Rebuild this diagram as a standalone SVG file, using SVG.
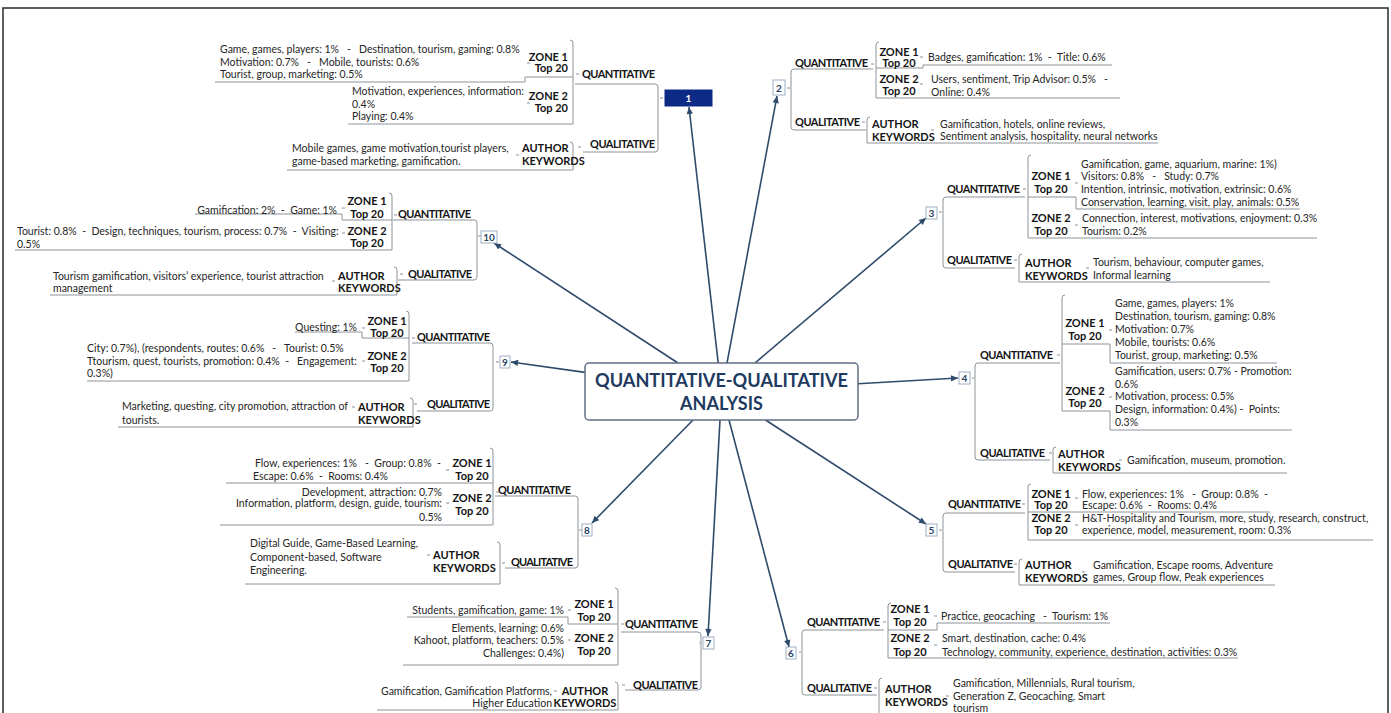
<svg xmlns="http://www.w3.org/2000/svg" width="1391" height="713" viewBox="0 0 1391 713">
<style>
.frame{fill:none;stroke:#2a2a2a;stroke-width:1.5}
.br{fill:none;stroke:#8e9398;stroke-width:1}
.arr{fill:none;stroke:#2f4b6b;stroke-width:1.6;marker-end:url(#ah)}
.dot{fill:#c4c8cc}
.kw{font-family:Lato,'Liberation Sans',sans-serif;font-size:10.5px;fill:#262626;white-space:pre}
.lb{font-family:Lato,'Liberation Sans',sans-serif;font-weight:bold;font-size:11px;fill:#141414}
.mid{text-anchor:middle}
.end{text-anchor:end}
.box{fill:#fff;stroke:#9db0c4;stroke-width:1}
.num{font-family:Lato,'Liberation Sans',sans-serif;font-weight:bold;font-size:10px;fill:#2a4563;text-anchor:middle}
.title{font-family:Lato,'Liberation Sans',sans-serif;font-weight:bold;font-size:18px;fill:#1e3a5f;text-anchor:middle}
</style>
<defs>
<marker id="ah" viewBox="0 0 10 10" refX="10" refY="5" markerWidth="8" markerHeight="7" markerUnits="userSpaceOnUse" orient="auto"><path d="M0,0.5 L10,5 L0,9.5 z" fill="#2f4b6b"/></marker>
</defs>
<rect width="1391" height="713" fill="#fff"/>
<path class="frame" d="M3,713 V8 H1388 V713"/>

<g id="connectors">
<path class="arr" d="M718.2,363 L689,107"/>
<path class="arr" d="M727,363 L777,96"/>
<path class="arr" d="M755,363 L926,218"/>
<path class="arr" d="M858,383.7 L958,378"/>
<path class="arr" d="M765.5,420 L926,524"/>
<path class="arr" d="M729,420 L789,647"/>
<path class="arr" d="M720,420 L708,636"/>
<path class="arr" d="M693,420 L592,523"/>
<path class="arr" d="M585,372.4 L511,362"/>
<path class="arr" d="M678,363 L494,243"/>
</g>

<g id="tree-lines">
<!-- branch 1 -->
<path class="br" d="M215,82 H525 V77 H573"/>
<path class="br" d="M570,40 Q573,40 573,43 V124 H348"/>
<path class="br" d="M575,84 H655 Q658,84 658,87 V149 Q658,152 655,152 H583"/>
<path class="br" d="M570,142 Q573,142 573,145 V170 H287"/>
<!-- branch 2 -->
<path class="br" d="M873,69 H794 Q791,69 791,72 V127 Q791,130 794,130 H866"/>
<path class="br" d="M879,42 Q876,42 876,45 V98 H1120"/>
<path class="br" d="M876,68 H923 V65 H1112"/>
<path class="br" d="M870,117 Q867,117 867,120 V143 H1158"/>
<!-- branch 3 -->
<path class="br" d="M1025,197 H946 Q943,197 943,200 V265 Q943,268 946,268 H1015"/>
<path class="br" d="M1031,155 Q1028,155 1028,158 V238 H1317"/>
<path class="br" d="M1028,197 H1076 V209 H1300"/>
<path class="br" d="M1022,254 Q1019,254 1019,257 V282 H1270"/>
<!-- branch 4 -->
<path class="br" d="M1060,363 H978 Q975,363 975,366 V457 Q975,460 978,460 H1050"/>
<path class="br" d="M1065,295 Q1062,295 1062,298 V411 H1110 V430 H1292"/>
<path class="br" d="M1062,344 H1110 V363 H1277"/>
<path class="br" d="M1056,447 Q1053,447 1053,450 V473 H1287"/>
<!-- branch 5 -->
<path class="br" d="M1025,513 H946 Q943,513 943,516 V569 Q943,572 946,572 H1015"/>
<path class="br" d="M1031,484 Q1028,484 1028,487 V540 H1373"/>
<path class="br" d="M1028,512 H1270"/>
<path class="br" d="M1022,559 Q1019,559 1019,562 V585 H1275"/>
<!-- branch 6 -->
<path class="br" d="M884,630 H805 Q802,630 802,633 V692 Q802,695 805,695 H877"/>
<path class="br" d="M891,603 Q888,603 888,606 V658 H1238"/>
<path class="br" d="M888,630 H937 V623 H1110"/>
<path class="br" d="M882,678 Q879,678 879,681 V720"/>
<!-- branch 7 -->
<path class="br" d="M621,632 H698 Q701,632 701,635 V687 Q701,690 698,690 H625"/>
<path class="br" d="M615,588 Q618,588 618,591 V665 H403"/>
<path class="br" d="M407,617 H568 V624 H618"/>
<path class="br" d="M615,682 Q618,682 618,685 V710 H377"/>
<!-- branch 8 -->
<path class="br" d="M495,496 H575 Q578,496 578,499 V565 Q578,568 575,568 H505"/>
<path class="br" d="M490,448 Q493,448 493,451 V525 H220"/>
<path class="br" d="M226,483 H493"/>
<path class="br" d="M497,542 Q500,542 500,545 V584 H245"/>
<!-- branch 9 -->
<path class="br" d="M412,343 H490 Q493,343 493,346 V408 Q493,411 490,411 H417"/>
<path class="br" d="M406,311 Q409,311 409,314 V381 H87"/>
<path class="br" d="M295,332 H362 V338 H409"/>
<path class="br" d="M410,398 Q413,398 413,401 V427 H118"/>
<!-- branch 10 -->
<path class="br" d="M393,220 H474 Q477,220 477,223 V277 Q477,280 474,280 H398"/>
<path class="br" d="M389,193 Q392,193 392,196 V250 H15"/>
<path class="br" d="M195,214 H342 V220 H392"/>
<path class="br" d="M394,267 Q397,267 397,270 V295 H50"/>
</g>

<g id="knobs">
<rect class="dot" x="660" y="97" width="3" height="2"/><rect class="dot" x="576" y="73" width="3" height="2"/><rect class="dot" x="527" y="62" width="3" height="2"/><rect class="dot" x="527" y="102" width="3" height="2"/><rect class="dot" x="578" y="146" width="3" height="2"/><rect class="dot" x="516" y="154" width="3" height="2"/>
<rect class="dot" x="787" y="87" width="3" height="2"/><rect class="dot" x="871" y="63" width="3" height="2"/><rect class="dot" x="920" y="56" width="3" height="2"/><rect class="dot" x="920" y="83" width="3" height="2"/><rect class="dot" x="862" y="121" width="3" height="2"/><rect class="dot" x="931" y="129" width="3" height="2"/>
<rect class="dot" x="939" y="211" width="3" height="2"/><rect class="dot" x="1023" y="188" width="3" height="2"/><rect class="dot" x="1075" y="182" width="3" height="2"/><rect class="dot" x="1075" y="224" width="3" height="2"/><rect class="dot" x="1014" y="259" width="3" height="2"/><rect class="dot" x="1086" y="267" width="3" height="2"/>
<rect class="dot" x="972" y="377" width="3" height="2"/><rect class="dot" x="1057" y="354" width="3" height="2"/><rect class="dot" x="1109" y="329" width="3" height="2"/><rect class="dot" x="1109" y="396" width="3" height="2"/><rect class="dot" x="1049" y="452" width="3" height="2"/><rect class="dot" x="1119" y="459" width="3" height="2"/>
<rect class="dot" x="939" y="529" width="3" height="2"/><rect class="dot" x="1022" y="503" width="3" height="2"/><rect class="dot" x="1075" y="497" width="3" height="2"/><rect class="dot" x="1075" y="524" width="3" height="2"/><rect class="dot" x="1014" y="563" width="3" height="2"/><rect class="dot" x="1082" y="571" width="3" height="2"/>
<rect class="dot" x="799" y="651" width="3" height="2"/><rect class="dot" x="883" y="621" width="3" height="2"/><rect class="dot" x="934" y="615" width="3" height="2"/><rect class="dot" x="934" y="644" width="3" height="2"/><rect class="dot" x="874" y="687" width="3" height="2"/><rect class="dot" x="946" y="695" width="3" height="2"/>
<rect class="dot" x="699" y="642" width="3" height="2"/><rect class="dot" x="621" y="623" width="3" height="2"/><rect class="dot" x="568" y="609" width="3" height="2"/><rect class="dot" x="568" y="639" width="3" height="2"/><rect class="dot" x="622" y="684" width="3" height="2"/><rect class="dot" x="554" y="690" width="3" height="2"/>
<rect class="dot" x="579" y="529" width="3" height="2"/><rect class="dot" x="496" y="491" width="3" height="2"/><rect class="dot" x="446" y="469" width="3" height="2"/><rect class="dot" x="446" y="502" width="3" height="2"/><rect class="dot" x="502" y="562" width="3" height="2"/><rect class="dot" x="427" y="554" width="3" height="2"/>
<rect class="dot" x="496" y="361" width="3" height="2"/><rect class="dot" x="412" y="337" width="3" height="2"/><rect class="dot" x="362" y="327" width="3" height="2"/><rect class="dot" x="362" y="360" width="3" height="2"/><rect class="dot" x="414" y="403" width="3" height="2"/><rect class="dot" x="352" y="406" width="3" height="2"/>
<rect class="dot" x="478" y="235" width="3" height="2"/><rect class="dot" x="394" y="214" width="3" height="2"/><rect class="dot" x="342" y="207" width="3" height="2"/><rect class="dot" x="342" y="232" width="3" height="2"/><rect class="dot" x="400" y="273" width="3" height="2"/><rect class="dot" x="332" y="280" width="3" height="2"/>
</g>

<g id="center">
<rect x="585" y="363" width="273" height="57" rx="4" fill="#fff" stroke="#5f6f82" stroke-width="1.5"/>
<text class="title" x="721.5" y="387" textLength="253" lengthAdjust="spacingAndGlyphs">QUANTITATIVE-QUALITATIVE</text>
<text class="title" x="721.5" y="410">ANALYSIS</text>
</g>

<g id="branch-1">
<g id="n1"><rect x="665" y="90" width="47" height="16" fill="#0d2b85" stroke="#0d2b85"/><text class="num" x="688.5" y="102" style="fill:#fff">1</text></g>
<text class="lb" x="582" y="78" textLength="73">QUANTITATIVE</text>
<text class="lb" x="590" y="148" textLength="65">QUALITATIVE</text>
<text class="lb end" x="568" y="61">ZONE 1</text><text class="lb end" x="568" y="72">Top 20</text>
<text class="lb end" x="568" y="100">ZONE 2</text><text class="lb end" x="568" y="112">Top 20</text>
<text class="lb" x="522" y="152">AUTHOR</text><text class="lb" x="522" y="165">KEYWORDS</text>
<text class="kw" xml:space="preserve" x="220" y="53">Game, games, players: 1%   -   Destination, tourism, gaming: 0.8%</text>
<text class="kw" xml:space="preserve" x="220" y="66">Motivation: 0.7%   -   Mobile, tourists: 0.6%</text>
<text class="kw" x="220" y="78">Tourist, group, marketing: 0.5%</text>
<text class="kw" x="352" y="95">Motivation, experiences, information:</text>
<text class="kw" x="352" y="108">0.4%</text>
<text class="kw" x="352" y="120">Playing: 0.4%</text>
<text class="kw" x="292" y="152">Mobile games, game motivation,tourist players,</text>
<text class="kw" x="292" y="165">game-based marketing, gamification.</text>
</g>

<g id="branch-2">
<g id="n2"><rect class="box" x="773" y="80" width="12" height="15"/><text class="num" x="779" y="91.5">2</text></g>
<text class="lb" x="795" y="67" textLength="73">QUANTITATIVE</text>
<text class="lb" x="795" y="126" textLength="65">QUALITATIVE</text>
<text class="lb mid" x="899" y="56">ZONE 1</text><text class="lb mid" x="899" y="67">Top 20</text>
<text class="lb mid" x="899" y="83">ZONE 2</text><text class="lb mid" x="899" y="95">Top 20</text>
<text class="lb" x="872" y="128">AUTHOR</text><text class="lb" x="872" y="141">KEYWORDS</text>
<text class="kw" xml:space="preserve" x="928" y="61">Badges, gamification: 1%  -  Title: 0.6%</text>
<text class="kw" xml:space="preserve" x="931" y="83">Users, sentiment, Trip Advisor: 0.5%   -</text>
<text class="kw" x="931" y="96">Online: 0.4%</text>
<text class="kw" x="940" y="128">Gamification, hotels, online reviews,</text>
<text class="kw" x="940" y="140">Sentiment analysis, hospitality, neural networks</text>
</g>

<g id="branch-3">
<g id="n3"><rect class="box" x="926" y="207" width="11" height="12"/><text class="num" x="931.5" y="216.5">3</text></g>
<text class="lb" x="947" y="193" textLength="73">QUANTITATIVE</text>
<text class="lb" x="947" y="264" textLength="65">QUALITATIVE</text>
<text class="lb mid" x="1051" y="180">ZONE 1</text><text class="lb mid" x="1051" y="193">Top 20</text>
<text class="lb mid" x="1051" y="222">ZONE 2</text><text class="lb mid" x="1051" y="235">Top 20</text>
<text class="lb" x="1025" y="267">AUTHOR</text><text class="lb" x="1025" y="280">KEYWORDS</text>
<text class="kw" x="1081" y="168">Gamification, game, aquarium, marine: 1%)</text>
<text class="kw" xml:space="preserve" x="1081" y="180">Visitors: 0.8%   -   Study: 0.7%</text>
<text class="kw" x="1081" y="193">Intention, intrinsic, motivation, extrinsic: 0.6%</text>
<text class="kw" x="1081" y="206">Conservation, learning, visit, play, animals: 0.5%</text>
<text class="kw" x="1082" y="222">Connection, interest, motivations, enjoyment: 0.3%</text>
<text class="kw" x="1082" y="235">Tourism: 0.2%</text>
<text class="kw" x="1093" y="266">Tourism, behaviour, computer games,</text>
<text class="kw" x="1093" y="279">Informal learning</text>
</g>

<g id="branch-4">
<g id="n4"><rect class="box" x="959" y="372" width="11" height="12"/><text class="num" x="964.5" y="381.5">4</text></g>
<text class="lb" x="980" y="359" textLength="73">QUANTITATIVE</text>
<text class="lb" x="980" y="457" textLength="65">QUALITATIVE</text>
<text class="lb mid" x="1085" y="327">ZONE 1</text><text class="lb mid" x="1085" y="340">Top 20</text>
<text class="lb mid" x="1085" y="395">ZONE 2</text><text class="lb mid" x="1085" y="407">Top 20</text>
<text class="lb" x="1058" y="458">AUTHOR</text><text class="lb" x="1058" y="471">KEYWORDS</text>
<text class="kw" x="1115" y="307">Game, games, players: 1%</text>
<text class="kw" x="1115" y="320">Destination, tourism, gaming: 0.8%</text>
<text class="kw" x="1115" y="333">Motivation: 0.7%</text>
<text class="kw" x="1115" y="346">Mobile, tourists: 0.6%</text>
<text class="kw" x="1115" y="359">Tourist, group, marketing: 0.5%</text>
<text class="kw" x="1115" y="375">Gamification, users: 0.7% - Promotion:</text>
<text class="kw" x="1115" y="388">0.6%</text>
<text class="kw" x="1115" y="400">Motivation, process: 0.5%</text>
<text class="kw" xml:space="preserve" x="1115" y="413">Design, information: 0.4%) -  Points:</text>
<text class="kw" x="1115" y="426">0.3%</text>
<text class="kw" x="1127" y="464">Gamification, museum, promotion.</text>
</g>

<g id="branch-5">
<g id="n5"><rect class="box" x="926" y="524" width="11" height="12"/><text class="num" x="931.5" y="533.5">5</text></g>
<text class="lb" x="948" y="508" textLength="73">QUANTITATIVE</text>
<text class="lb" x="948" y="568" textLength="65">QUALITATIVE</text>
<text class="lb mid" x="1051" y="498">ZONE 1</text><text class="lb mid" x="1051" y="509">Top 20</text>
<text class="lb mid" x="1051" y="522">ZONE 2</text><text class="lb mid" x="1051" y="534">Top 20</text>
<text class="lb" x="1025" y="569">AUTHOR</text><text class="lb" x="1025" y="582">KEYWORDS</text>
<text class="kw" xml:space="preserve" x="1082" y="498">Flow, experiences: 1%   -  Group: 0.8%  -</text>
<text class="kw" xml:space="preserve" x="1082" y="509">Escape: 0.6%  -  Rooms: 0.4%</text>
<text class="kw" x="1082" y="522">H&amp;T-Hospitality and Tourism, more, study, research, construct,</text>
<text class="kw" x="1082" y="534">experience, model, measurement, room: 0.3%</text>
<text class="kw" x="1093" y="569">Gamification, Escape rooms, Adventure</text>
<text class="kw" x="1093" y="581">games, Group flow, Peak experiences</text>
</g>

<g id="branch-6">
<g id="n6"><rect class="box" x="786" y="647" width="10" height="12"/><text class="num" x="791" y="656.5">6</text></g>
<text class="lb" x="807" y="626" textLength="73">QUANTITATIVE</text>
<text class="lb" x="807" y="692" textLength="65">QUALITATIVE</text>
<text class="lb mid" x="910" y="613">ZONE 1</text><text class="lb mid" x="910" y="626">Top 20</text>
<text class="lb mid" x="910" y="642">ZONE 2</text><text class="lb mid" x="910" y="656">Top 20</text>
<text class="lb" x="885" y="693">AUTHOR</text><text class="lb" x="885" y="706">KEYWORDS</text>
<text class="kw" xml:space="preserve" x="941" y="620">Practice, geocaching   -  Tourism: 1%</text>
<text class="kw" x="942" y="642">Smart, destination, cache: 0.4%</text>
<text class="kw" x="942" y="656">Technology, community, experience, destination, activities: 0.3%</text>
<text class="kw" x="953" y="687">Gamification, Millennials, Rural tourism,</text>
<text class="kw" x="953" y="700">Generation Z, Geocaching, Smart</text>
<text class="kw" x="953" y="712">tourism</text>
</g>

<g id="branch-7">
<g id="n7"><rect class="box" x="703" y="637" width="11" height="12"/><text class="num" x="708.5" y="646.5">7</text></g>
<text class="lb" x="625" y="628" textLength="73">QUANTITATIVE</text>
<text class="lb" x="633" y="689" textLength="65">QUALITATIVE</text>
<text class="lb mid" x="594" y="608">ZONE 1</text><text class="lb mid" x="594" y="621">Top 20</text>
<text class="lb mid" x="594" y="642">ZONE 2</text><text class="lb mid" x="594" y="655">Top 20</text>
<text class="lb mid" x="585" y="695">AUTHOR</text><text class="lb mid" x="585" y="707">KEYWORDS</text>
<text class="kw end" x="564" y="614">Students, gamification, game: 1%</text>
<text class="kw end" x="564" y="632">Elements, learning: 0.6%</text>
<text class="kw end" x="564" y="644">Kahoot, platform, teachers: 0.5%</text>
<text class="kw end" x="564" y="657">Challenges: 0.4%)</text>
<text class="kw end" x="552" y="695">Gamification, Gamification Platforms,</text>
<text class="kw end" x="552" y="707">Higher Education</text>
</g>

<g id="branch-8">
<g id="n8"><rect class="box" x="582" y="524" width="10" height="12"/><text class="num" x="587" y="533.5">8</text></g>
<text class="lb" x="498" y="494" textLength="73">QUANTITATIVE</text>
<text class="lb" x="511" y="566" textLength="62">QUALITATIVE</text>
<text class="lb mid" x="472" y="467">ZONE 1</text><text class="lb mid" x="472" y="480">Top 20</text>
<text class="lb mid" x="472" y="502">ZONE 2</text><text class="lb mid" x="472" y="515">Top 20</text>
<text class="lb" x="433" y="559">AUTHOR</text><text class="lb" x="433" y="572">KEYWORDS</text>
<text class="kw" xml:space="preserve" x="255" y="467">Flow, experiences: 1%   -  Group: 0.8%  -</text>
<text class="kw" xml:space="preserve" x="253" y="480">Escape: 0.6%  -  Rooms: 0.4%</text>
<text class="kw end" x="442" y="496">Development, attraction: 0.7%</text>
<text class="kw end" x="442" y="507">Information, platform, design, guide, tourism:</text>
<text class="kw end" x="442" y="521">0.5%</text>
<text class="kw" x="250" y="547">Digital Guide, Game-Based Learning,</text>
<text class="kw" x="250" y="561">Component-based, Software</text>
<text class="kw" x="250" y="574">Engineering.</text>
</g>

<g id="branch-9">
<g id="n9"><rect class="box" x="500" y="356" width="10" height="12"/><text class="num" x="505" y="365.5">9</text></g>
<text class="lb" x="417" y="341" textLength="73">QUANTITATIVE</text>
<text class="lb" x="427" y="408" textLength="63">QUALITATIVE</text>
<text class="lb mid" x="387" y="325">ZONE 1</text><text class="lb mid" x="387" y="337">Top 20</text>
<text class="lb mid" x="387" y="360">ZONE 2</text><text class="lb mid" x="387" y="372">Top 20</text>
<text class="lb" x="358" y="411">AUTHOR</text><text class="lb" x="358" y="424">KEYWORDS</text>
<text class="kw end" x="357" y="331">Questing: 1%</text>
<text class="kw" xml:space="preserve" x="87" y="352">City: 0.7%), (respondents, routes: 0.6%   -   Tourist: 0.5%</text>
<text class="kw" xml:space="preserve" x="87" y="365">Ttourism, quest, tourists, promotion: 0.4%  -   Engagement:</text>
<text class="kw" x="87" y="377">0.3%)</text>
<text class="kw" x="122" y="410">Marketing, questing, city promotion, attraction of</text>
<text class="kw" x="122" y="424">tourists.</text>
</g>

<g id="branch-10">
<g id="n10"><rect class="box" x="481" y="231" width="16" height="12"/><text class="num" x="489" y="240.5">10</text></g>
<text class="lb" x="398" y="218" textLength="73">QUANTITATIVE</text>
<text class="lb" x="408" y="278" textLength="64">QUALITATIVE</text>
<text class="lb mid" x="367" y="205">ZONE 1</text><text class="lb mid" x="367" y="218">Top 20</text>
<text class="lb mid" x="367" y="235">ZONE 2</text><text class="lb mid" x="367" y="247">Top 20</text>
<text class="lb" x="338" y="280">AUTHOR</text><text class="lb" x="338" y="292">KEYWORDS</text>
<text class="kw end" xml:space="preserve" x="337" y="214">Gamification: 2%  -  Game: 1%</text>
<text class="kw" xml:space="preserve" x="17" y="235">Tourist: 0.8%  -  Design, techniques, tourism, process: 0.7%  -  Visiting:</text>
<text class="kw" x="17" y="248">0.5%</text>
<text class="kw" x="53" y="280">Tourism gamification, visitors’ experience, tourist attraction</text>
<text class="kw" x="53" y="292">management</text>
</g>
</svg>
